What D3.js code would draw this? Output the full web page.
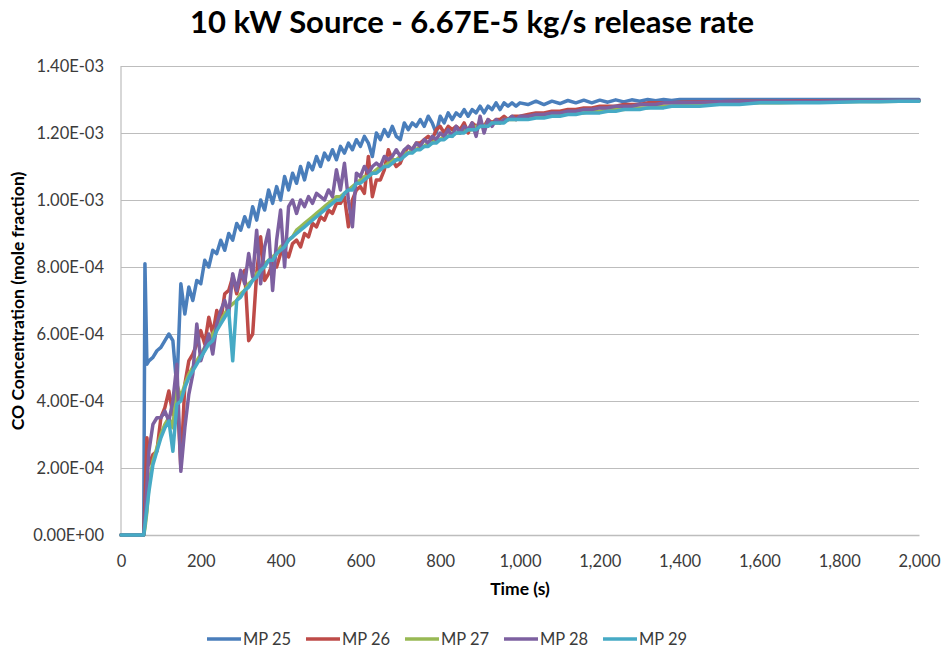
<!DOCTYPE html>
<html>
<head>
<meta charset="utf-8">
<script src="https://cdn.jsdelivr.net/npm/d3@7"></script>
<style>
  html, body { margin: 0; padding: 0; background: #fff; }
  svg { display: block; }
</style>
</head>
<body>
<svg id="chart" width="946" height="652"></svg>
<script>
// Sample times (s)
const times = [
  0, 10, 20, 30, 40, 50, 57, 60, 65,
  70, 80, 90, 100, 110, 120, 130, 140, 150, 160,
  170, 180, 190, 200, 210, 220, 230, 240, 250, 260,
  270, 280, 290, 300, 310, 320, 330, 340, 350, 360,
  370, 380, 390, 400, 410, 420, 430, 440, 450, 460,
  470, 480, 490, 500, 510, 520, 530, 540, 550, 560,
  570, 580, 590, 600, 610, 620, 630, 640, 650, 660,
  670, 680, 690, 700, 710, 720, 730, 740, 750, 760,
  770, 780, 790, 800, 810, 820, 830, 840, 850, 860,
  870, 880, 890, 900, 910, 920, 930, 940, 950, 960,
  970, 980, 990, 1000,
  1020, 1040, 1060, 1080, 1100, 1120, 1140, 1160, 1180, 1200,
  1220, 1240, 1260, 1280, 1300, 1320, 1340, 1360, 1380, 1400,
  1450, 1500, 1550, 1600, 1650, 1700, 1750, 1800, 1850, 1900, 1950, 2000
];

// CO mole fraction, in units of 1E-4
const mp25 = [
  0, 0, 0, 0, 0, 0, 0, 8.1, 5.1,
  5.2, 5.3, 5.5, 5.6, 5.8, 6.0, 5.8, 4.4, 7.5, 6.6,
  7.4, 7.0, 7.6, 7.5, 8.2, 8.0, 8.5, 8.4, 8.8, 8.5,
  9.0, 8.8, 9.3, 9.1, 9.5, 9.2, 9.8, 9.4, 10.0, 9.7,
  10.3, 9.9, 10.4, 10.0, 10.7, 10.3, 10.8, 10.5, 11.0, 10.6,
  11.1, 10.9, 11.3, 11.0, 11.4, 11.2, 11.5, 11.2, 11.6, 11.4,
  11.7, 11.5, 11.8, 11.6, 11.9, 11.7, 11.3, 12.0, 11.8, 12.1,
  11.9, 12.2, 11.9, 11.8, 12.3, 12.1, 12.3, 12.2, 12.4, 12.2,
  12.5, 12.3, 12.0, 12.5, 12.3, 12.6, 12.4, 12.6, 12.5, 12.7,
  12.5, 12.7, 12.6, 12.8, 12.6, 12.8, 12.7, 12.9, 12.7, 12.9,
  12.8, 12.9, 12.8, 12.9,
  12.85, 12.95, 12.85, 12.95, 12.88, 12.97, 12.9, 12.98, 12.9, 12.98,
  12.92, 12.99, 12.93, 12.99, 12.95, 13.0, 12.96, 13.0, 12.97, 13.0,
  13.0, 13.0, 13.0, 13.0, 13.0, 13.0, 13.0, 13.0, 13.0, 13.0, 13.0, 13.0
];
const mp26 = [
  0, 0, 0, 0, 0, 0, 0, 1.0, 2.9,
  2.1, 2.4, 2.5, 3.5, 3.8, 4.3, 3.6, 4.4, 2.0, 4.5,
  5.2, 5.4, 5.7, 6.1, 5.7, 6.5, 6.0, 6.7, 6.4, 7.2,
  7.3, 7.7, 7.2, 7.7, 7.9, 5.8, 6.0, 7.8, 8.9, 7.6,
  7.8, 8.1, 8.0, 8.4, 8.5, 8.3, 8.7, 8.8, 8.6, 9.0,
  8.9, 9.3, 9.2, 9.5, 9.4, 9.7, 9.6, 9.9, 9.9, 10.1,
  9.2, 10.0, 10.3, 10.4, 10.2, 11.3, 10.1, 10.6, 10.6, 10.9,
  11.5, 11.2, 11.0, 11.1, 11.4, 11.6, 11.5, 11.7, 11.7, 11.8,
  11.9, 11.8, 12.1, 12.2, 12.0, 12.2, 12.1, 12.2, 12.1, 12.3,
  12.0, 12.3, 12.2, 12.3, 12.2, 12.4, 12.3, 12.4, 12.4, 12.5,
  12.4, 12.5, 12.5, 12.5,
  12.55, 12.6, 12.6, 12.65, 12.65, 12.7, 12.7, 12.75, 12.75, 12.8,
  12.8, 12.8, 12.85, 12.85, 12.85, 12.9, 12.9, 12.9, 12.9, 12.92,
  12.93, 12.93, 12.95, 12.95, 12.95, 12.96, 12.96, 12.97, 12.97, 12.97, 12.97, 12.97
];
const mp27 = [
  0, 0, 0, 0, 0, 0, 0, 0.2, 0.7,
  1.5, 2.2, 2.6, 3.0, 3.3, 3.5, 3.2, 4.5, 4.1, 4.5,
  4.8, 5.0, 5.2, 5.4, 5.6, 5.8, 6.0, 6.2, 6.4, 6.6,
  6.8, 6.9, 7.0, 7.2, 7.3, 7.5, 7.6, 7.8, 7.9, 8.1,
  8.2, 8.3, 8.4, 8.6, 8.7, 8.8, 8.9, 9.1, 9.2, 9.3,
  9.4, 9.5, 9.6, 9.7, 9.8, 9.9, 10.0, 10.1, 10.1, 10.2,
  10.3, 10.4, 10.5, 10.6, 10.7, 10.7, 10.8, 10.9, 11.0, 11.0,
  11.1, 11.2, 11.2, 11.3, 11.4, 11.4, 11.5, 11.5, 11.6, 11.6,
  11.7, 11.7, 11.8, 11.8, 11.9, 11.9, 12.0, 12.0, 12.0, 12.1,
  12.1, 12.1, 12.2, 12.2, 12.2, 12.3, 12.3, 12.3, 12.3, 12.4,
  12.4, 12.4, 12.4, 12.45,
  12.45, 12.5, 12.5, 12.55, 12.55, 12.6, 12.6, 12.6, 12.65, 12.65,
  12.7, 12.7, 12.7, 12.75, 12.75, 12.75, 12.8, 12.8, 12.8, 12.85,
  12.85, 12.87, 12.88, 12.9, 12.9, 12.92, 12.92, 12.93, 12.94, 12.94, 12.95, 12.95
];
const mp28 = [
  0, 0, 0, 0, 0, 0, 0, 0.5, 1.5,
  2.5, 3.3, 3.5, 3.5, 3.7, 3.4, 4.0, 5.1, 1.9, 3.2,
  4.2, 4.8, 6.3, 5.2, 5.6, 6.0, 5.4, 6.3, 6.7, 7.0,
  6.6, 7.8, 7.3, 7.9, 7.5, 8.4, 7.7, 9.1, 7.5, 8.6,
  9.1, 7.3, 8.8, 9.7, 8.0, 9.8, 10.0, 9.6, 10.0, 9.8,
  10.1, 9.9, 10.2, 10.1, 10.0, 10.3, 10.1, 10.9, 10.3, 11.1,
  10.0, 9.2, 10.8, 10.7, 11.0, 10.8, 11.0, 11.1, 11.0, 11.3,
  11.2, 11.3, 11.5, 11.3, 11.5, 11.6, 11.5, 11.7, 11.6, 11.8,
  11.7, 11.9, 11.8, 12.0, 11.9, 12.1, 11.9, 12.2, 12.0, 12.2,
  12.1, 12.3, 11.9, 12.5, 12.0, 12.4, 12.2, 12.4, 12.3, 12.4,
  12.4, 12.5, 12.4, 12.5,
  12.5, 12.55, 12.55, 12.6, 12.6, 12.65, 12.65, 12.7, 12.7, 12.75,
  12.75, 12.8, 12.8, 12.8, 12.85, 12.85, 12.85, 12.9, 12.9, 12.9,
  12.92, 12.93, 12.93, 12.94, 12.95, 12.95, 12.95, 12.96, 12.96, 12.96, 12.96, 12.96
];
const mp29 = [
  0, 0, 0, 0, 0, 0, 0, 0.3, 0.8,
  1.3, 2.1, 2.5, 2.9, 3.2, 3.4, 2.5, 3.9, 4.0, 4.4,
  4.7, 4.9, 5.1, 5.3, 5.5, 5.7, 5.8, 6.1, 6.3, 6.5,
  6.7, 5.2, 7.0, 7.1, 7.3, 7.4, 7.6, 7.7, 7.9, 8.0,
  8.2, 8.2, 8.4, 8.5, 8.6, 8.8, 8.9, 9.0, 9.1, 9.2,
  9.3, 9.4, 9.5, 9.6, 9.7, 9.8, 9.9, 10.0, 10.0, 10.2,
  10.3, 10.3, 10.5, 10.5, 10.6, 10.7, 10.8, 10.8, 10.9, 11.0,
  11.0, 11.1, 11.2, 11.2, 11.3, 11.4, 11.4, 11.5, 11.5, 11.6,
  11.6, 11.7, 11.7, 11.8, 11.8, 11.9, 11.9, 12.0, 12.0, 12.0,
  12.1, 12.1, 12.1, 12.2, 12.2, 12.2, 12.3, 12.3, 12.3, 12.3,
  12.4, 12.4, 12.4, 12.4,
  12.4, 12.45, 12.45, 12.5, 12.5, 12.55, 12.55, 12.6, 12.6, 12.6,
  12.65, 12.65, 12.7, 12.7, 12.7, 12.75, 12.75, 12.75, 12.8, 12.8,
  12.8, 12.85, 12.85, 12.9, 12.9, 12.9, 12.9, 12.92, 12.93, 12.93, 12.95, 12.95
];

const seriesNames = ["MP 25", "MP 26", "MP 27", "MP 28", "MP 29"];
const seriesValues = [mp25, mp26, mp27, mp28, mp29];
const seriesColors = ["#4a7ebb", "#be4b48", "#98b954", "#7d60a0", "#46aac5"];

const yTicks = [0, 2, 4, 6, 8, 10, 12, 14];           // x 1E-4
const xTicks = [0, 200, 400, 600, 800, 1000, 1200, 1400, 1600, 1800, 2000];
const UNIT = 1e-4;

const svg = d3.select("#chart");
const plot = { left: 121, right: 919, top: 66, bottom: 535 };

const x = d3.scaleLinear().domain([0, 2000]).range([plot.left, plot.right]);
const y = d3.scaleLinear().domain([0, 14]).range([plot.bottom, plot.top]);

// Excel-style scientific label, e.g. 1.40E-03
function sci(v) {
  const val = v * UNIT;
  if (val === 0) return "0.00E+00";
  const [m, e] = val.toExponential(2).split("e");
  const ev = +e;
  return m + "E" + (ev < 0 ? "-" : "+") + String(Math.abs(ev)).padStart(2, "0");
}

const labelFont = "Lato, 'Open Sans', sans-serif";

// Horizontal gridlines
const yAxis = d3.axisLeft(y).tickValues(yTicks).tickSize(-(plot.right - plot.left)).tickFormat(sci).tickPadding(17);
const gy = svg.append("g").attr("transform", `translate(${plot.left},0)`).call(yAxis);
gy.select(".domain").remove();
gy.selectAll(".tick line").attr("stroke", "#bdbdbd").attr("stroke-width", 1.2);
gy.selectAll(".tick text")
  .attr("font-family", labelFont).attr("font-size", 16.5).attr("fill", "#3b3b3b");

// Left axis line
svg.append("line")
  .attr("x1", plot.left).attr("x2", plot.left)
  .attr("y1", plot.top).attr("y2", plot.bottom)
  .attr("stroke", "#bdbdbd").attr("stroke-width", 1.2);

// X axis
const xAxis = d3.axisBottom(x).tickValues(xTicks).tickSize(0).tickPadding(20).tickFormat(d3.format(","));
const gx = svg.append("g").attr("transform", `translate(0,${plot.bottom})`).call(xAxis);
gx.select(".domain").attr("stroke", "#bdbdbd").attr("stroke-width", 1.5);
gx.selectAll(".tick text")
  .attr("font-family", labelFont).attr("font-size", 16.5).attr("fill", "#3b3b3b");

// Series lines
const line = d3.line()
  .x((d, i) => x(times[i]))
  .y(d => y(d));

svg.append("g").selectAll("path")
  .data(seriesValues)
  .join("path")
  .attr("d", d => line(d))
  .attr("fill", "none")
  .attr("stroke", (d, i) => seriesColors[i])
  .attr("stroke-width", 3.5)
  .attr("stroke-linejoin", "round")
  .attr("stroke-linecap", "round");

// Title
svg.append("text")
  .attr("x", 472).attr("y", 33)
  .attr("text-anchor", "middle")
  .attr("font-family", labelFont)
  .attr("font-weight", "bold")
  .attr("font-size", 31)
  .attr("fill", "#000")
  .text("10 kW Source - 6.67E-5 kg/s release rate");

// Axis titles
svg.append("text")
  .attr("x", 520).attr("y", 595)
  .attr("text-anchor", "middle")
  .attr("font-family", labelFont)
  .attr("font-weight", "bold")
  .attr("font-size", 17.5)
  .text("Time (s)");

svg.append("text")
  .attr("transform", `translate(24,301) rotate(-90)`)
  .attr("text-anchor", "middle")
  .attr("font-family", labelFont)
  .attr("font-weight", "bold")
  .attr("font-size", 17.5)
  .text("CO Concentration (mole fraction)");

// Legend
const legend = svg.append("g").attr("transform", "translate(207,639)");
const item = legend.selectAll("g")
  .data(seriesNames)
  .join("g")
  .attr("transform", (d, i) => `translate(${i * 99},0)`);
item.append("line")
  .attr("x1", 0).attr("x2", 34)
  .attr("stroke", (d, i) => seriesColors[i])
  .attr("stroke-width", 3.5);
item.append("text")
  .attr("x", 36).attr("y", 6)
  .attr("font-family", labelFont)
  .attr("font-size", 16.5)
  .attr("fill", "#3b3b3b")
  .text(d => d);
</script>
</body>
</html>
